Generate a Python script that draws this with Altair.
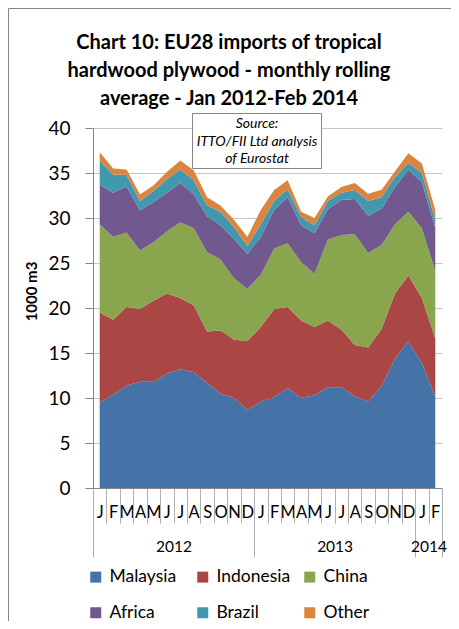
import altair as alt
import pandas as pd

# ---------------- data ----------------
month_letters = ["J", "F", "M", "A", "M", "J", "J", "A", "S", "O", "N", "D"]
years = ["2012", "2013", "2014"]
year_centers = [6, 18, 25]          # centre of each year's block of months
year_breaks = [0, 12, 24, 26]       # boundaries between years
n_months = 26                       # Jan 2012 .. Feb 2014

series = ["Malaysia", "Indonesia", "China", "Africa", "Brazil", "Other"]
colors = ["#4572A7", "#AA4643", "#89A54E", "#71588F", "#4198AF", "#DB843D"]

malaysia = [9.5, 10.4, 11.4, 11.8, 11.8, 12.7, 13.2, 12.9, 11.7, 10.5, 10.0, 8.7, 9.6,
            10.1, 11.1, 10.0, 10.3, 11.2, 11.2, 10.2, 9.6, 11.3, 14.4, 16.3, 13.9, 10.1]
indonesia = [10.0, 8.3, 8.7, 8.1, 9.0, 8.9, 7.9, 7.4, 5.7, 7.0, 6.5, 7.6, 8.3,
             9.8, 9.0, 8.6, 7.6, 7.4, 6.4, 5.7, 6.0, 6.4, 7.2, 7.3, 7.2, 6.5]
china = [9.8, 9.2, 8.3, 6.5, 6.5, 6.9, 8.4, 8.6, 8.8, 7.9, 6.8, 5.8, 5.8,
         6.7, 7.1, 6.5, 5.9, 9.0, 10.5, 12.3, 10.5, 9.3, 7.7, 7.1, 7.75, 7.5]
africa = [4.4, 4.9, 5.1, 4.45, 4.45, 4.3, 4.4, 3.75, 4.0, 3.8, 4.4, 3.9, 4.2,
          4.3, 5.1, 4.1, 4.5, 3.4, 3.9, 3.9, 4.15, 4.05, 4.15, 4.65, 5.15, 4.8]
brazil = [2.7, 2.0, 1.3, 1.05, 1.25, 1.5, 1.5, 1.55, 1.2, 1.5, 1.3, 0.9, 1.4,
          1.0, 0.9, 0.9, 0.9, 0.9, 0.8, 1.0, 1.65, 1.25, 1.1, 0.75, 1.0, 0.9]
other = [0.9, 0.7, 0.6, 0.7, 0.6, 0.8, 1.0, 1.1, 0.9, 0.7, 0.8, 1.0, 1.6,
         1.2, 1.0, 0.6, 0.8, 0.5, 0.65, 0.8, 0.8, 0.85, 0.65, 1.1, 1.05, 1.1]

title_lines = ["Chart 10: EU28 imports of tropical",
               "hardwood plywood - monthly rolling",
               "average - Jan 2012-Feb 2014"]
source_lines = ["Source:", "ITTO/FII Ltd analysis", "of Eurostat"]
y_title = "1000 m3"

# ---------------- tables ----------------
rows = []
for k, (name, vals) in enumerate(zip(series, [malaysia, indonesia, china, africa, brazil, other])):
    for i, v in enumerate(vals):
        rows.append({"pos": i + 0.5, "series": name, "rank": k, "value": v})
df = pd.DataFrame(rows)

ticks_df = pd.DataFrame({"pos": list(range(n_months + 1))})

FONT = "Lato"
GRAY = "#868686"
x_scale = alt.Scale(domain=[0, n_months], nice=False, zero=False)

month_expr = "[" + ",".join("'%s'" % m for m in month_letters) + "][floor(datum.value) % 12]"
year_expr = " : ".join("datum.value == %d ? '%s'" % (c, y) for c, y in zip(year_centers[:-1], years[:-1])) + " : '%s'" % years[-1]

# stacked areas + month labels + y axis + legend
area = alt.Chart(df).mark_area(interpolate="linear").encode(
    x=alt.X("pos:Q", scale=x_scale,
            axis=alt.Axis(orient="bottom", values=[i + 0.5 for i in range(n_months)],
                          labelExpr=month_expr, ticks=False, domain=False, grid=False,
                          labelPadding=16, labelFont=FONT, labelFontSize=16.5, labelColor="#000000",
                          labelOverlap=False, labelFlush=False, labelBound=False, title=None)),
    y=alt.Y("value:Q", stack="zero", scale=alt.Scale(domain=[0, 40], nice=False),
            axis=alt.Axis(values=list(range(0, 41, 5)), title=y_title, grid=True,
                          gridColor="#c6c6c6", gridWidth=1, domainColor=GRAY, tickColor=GRAY,
                          tickSize=8, labelPadding=15, labelFont=FONT, labelFontSize=19,
                          labelColor="#000000", titleFont=FONT, titleFontSize=15,
                          titleFontWeight="bold", titleColor="#000000", titleAngle=270,
                          titleX=-62, titleY=163, titleAlign="center", titleBaseline="middle")),
    color=alt.Color("series:N", scale=alt.Scale(domain=series, range=colors),
                    legend=alt.Legend(orient="none", legendX=-6, legendY=440, direction="horizontal",
                                      columns=3, title=None, symbolType="square", symbolSize=121,
                                      symbolStrokeWidth=0, labelFont=FONT, labelFontSize=17.5,
                                      labelColor="#000000", labelOffset=5, columnPadding=10,
                                      gridAlign="all", rowPadding=17, labelLimit=200)),
    order=alt.Order("rank:Q", sort="ascending"),
)

# month boundary ticks (with x-axis line)
month_ticks = alt.Chart(ticks_df).mark_rule(opacity=0).encode(
    x=alt.X("pos:Q", scale=x_scale,
            axis=alt.Axis(orient="bottom", values=list(range(n_months + 1)), labels=False,
                          ticks=True, tickSize=35, tickColor="#b0b0b0", domain=True,
                          domainColor=GRAY, grid=False, title=None)),
)

# year boundary ticks
year_ticks = alt.Chart(ticks_df).mark_rule(opacity=0).encode(
    x=alt.X("pos:Q", scale=x_scale,
            axis=alt.Axis(orient="bottom", values=year_breaks, labels=False, ticks=True,
                          tickSize=69, tickColor="#b0b0b0", domain=False, grid=False, title=None)),
)

# year labels
year_labels = alt.Chart(ticks_df).mark_rule(opacity=0).encode(
    x=alt.X("pos:Q", scale=x_scale,
            axis=alt.Axis(orient="bottom", values=year_centers, labelExpr=year_expr, ticks=False,
                          domain=False, grid=False, labelPadding=51, labelFont=FONT,
                          labelFontSize=15.5, labelColor="#000000", labelOverlap=False,
                          labelFlush=False, labelBound=False, title=None)),
)

one = pd.DataFrame({"k": [0]})

# outer chart frame
frame = alt.Chart(one).mark_rect(fill=None, stroke=GRAY, strokeWidth=1).encode(
    x=alt.value(-84.5), x2=alt.value(420), y=alt.value(-119.5), y2=alt.value(560))

# source annotation box
src_box = alt.Chart(one).mark_rect(fill="white", stroke=GRAY, strokeWidth=1).encode(
    x=alt.value(99.5), x2=alt.value(228.5), y=alt.value(-14.5), y2=alt.value(40.5))
src_text = alt.Chart(one).mark_text(
    font=FONT, fontStyle="italic", fontSize=14, lineHeight=17.5, align="center",
    baseline="alphabetic", lineBreak="\n", color="#000000").encode(
    x=alt.value(164), y=alt.value(0), text=alt.value("\n".join(source_lines)))

chart = alt.layer(frame, area, month_ticks, year_ticks, year_labels, src_box, src_text).resolve_axis(
    x="independent"
).properties(
    width=349, height=360,
    autosize=alt.AutoSizeParams(type="none"),
    padding={"left": 85, "top": 120, "right": 9, "bottom": 133},
    title=alt.TitleParams(text=title_lines, font=FONT, fontSize=20, fontWeight="bold",
                          color="#000000", anchor="middle", frame="group", lineHeight=28,
                          dx=-38.5, offset=-100.5),
).configure_view(stroke=None)

chart.save("out.html", embed_options={"renderer": "svg", "actions": False})
